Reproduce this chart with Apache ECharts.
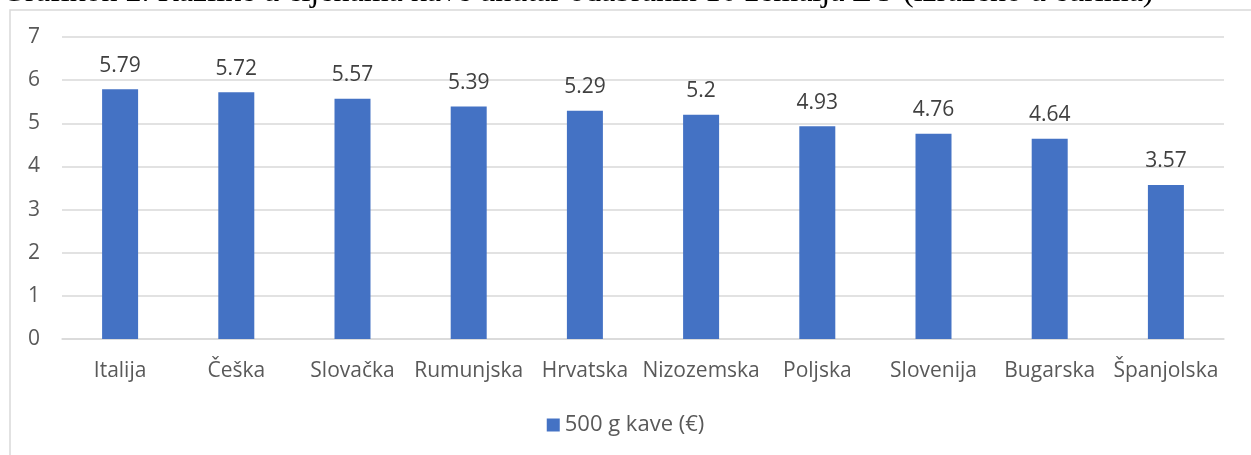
<!DOCTYPE html>
<html>
<head>
<meta charset="utf-8">
<script src="https://cdn.jsdelivr.net/npm/echarts@6/dist/echarts.min.js"></script>
<style>
  html, body { margin: 0; padding: 0; background: #ffffff; }
  #chart { width: 1251px; height: 455px; }
</style>
</head>
<body>
<div id="chart"></div>
<script>
const chart = echarts.init(document.getElementById('chart'));

const countries = ['Italija', 'Češka', 'Slovačka', 'Rumunjska', 'Hrvatska',
  'Nizozemska', 'Poljska', 'Slovenija', 'Bugarska', 'Španjolska'];

const prices = [5.79, 5.72, 5.57, 5.39, 5.29, 5.2, 4.93, 4.76, 4.64, 3.57];

const seriesName = '500 g kave (€)';

const titleText = 'Grafikon 2. Razlike u cijenama kave unutar odabranih 10 zemalja EU (izraženo u eurima)';

const textColor = '#595959';
const barColor = '#4472C4';

const option = {
  animation: false,
  textStyle: { fontFamily: 'Open Sans' },

  graphic: [
    {
      type: 'rect',
      shape: { x: 10, y: 10, width: 1400, height: 600 },
      style: { fill: 'none', stroke: '#D9D9D9', lineWidth: 1.5 },
      silent: true
    },
    {
      // the caption above the chart is cut off at the top of the picture
      type: 'text',
      x: 2,
      y: 9,
      style: {
        text: titleText,
        font: '32px "Liberation Serif"',
        fill: '#000000',
        align: 'left',
        verticalAlign: 'bottom'
      },
      silent: true
    }
  ],

  legend: {
    data: [seriesName],
    bottom: 14,
    left: 'center',
    itemWidth: 13,
    itemHeight: 13,
    icon: 'rect',
    textStyle: { color: textColor, fontSize: 22, fontFamily: 'Open Sans' }
  },

  grid: {
    left: 62,
    right: 27,
    top: 37,
    bottom: 116
  },

  xAxis: {
    type: 'category',
    data: countries,
    axisTick: { show: false },
    axisLine: { lineStyle: { color: '#D9D9D9', width: 1.5 } },
    axisLabel: {
      color: textColor,
      fontSize: 21,
      margin: 22,
      interval: 0
    }
  },

  yAxis: {
    type: 'value',
    min: 0,
    max: 7,
    interval: 1,
    axisLine: { show: false },
    axisTick: { show: false },
    splitLine: { lineStyle: { color: '#D9D9D9', width: 1.5 } },
    axisLabel: {
      color: textColor,
      fontSize: 21,
      margin: 22
    }
  },

  series: [{
    name: seriesName,
    type: 'bar',
    data: prices,
    barWidth: 36,
    itemStyle: { color: barColor },
    label: {
      show: true,
      position: 'top',
      distance: 13,
      color: '#404040',
      fontSize: 21
    }
  }]
};

chart.setOption(option);
</script>
</body>
</html>
